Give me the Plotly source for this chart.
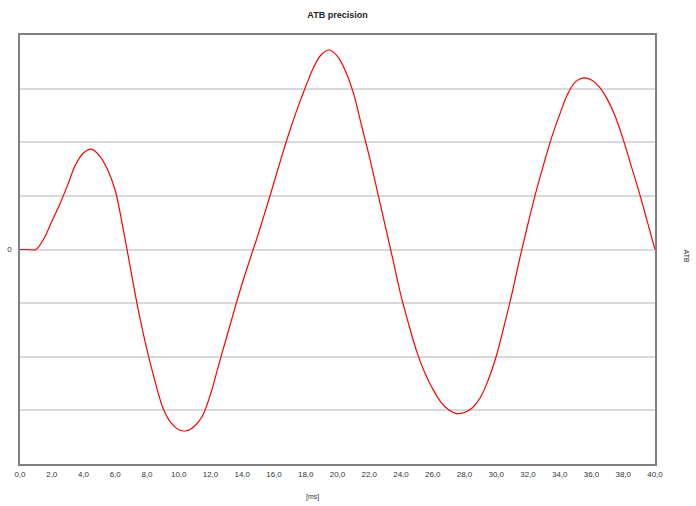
import plotly.graph_objects as go

# time in ms (0.5 ms steps) and ATB values (grid units)
t_ms = [i * 0.5 for i in range(81)]
atb = [0.0, 0.0, 0.0, 0.2, 0.52, 0.84, 1.2, 1.58, 1.8, 1.87,
       1.75, 1.5, 1.1, 0.38, -0.42, -1.2, -1.87, -2.45, -2.95, -3.23,
       -3.36, -3.38, -3.29, -3.1, -2.7, -2.17, -1.65, -1.13, -0.63, -0.17,
       0.28, 0.76, 1.25, 1.75, 2.22, 2.65, 3.04, 3.4, 3.64, 3.72,
       3.6, 3.33, 2.92, 2.33, 1.74, 1.1, 0.45, -0.2, -0.86, -1.41,
       -1.91, -2.3, -2.6, -2.84, -2.99, -3.06, -3.04, -2.95, -2.76, -2.43,
       -1.99, -1.42, -0.81, -0.14, 0.48, 1.07, 1.6, 2.1, 2.52, 2.9,
       3.13, 3.2, 3.16, 3.03, 2.8, 2.48, 2.05, 1.56, 1.07, 0.54, 0.0]

x_tick_vals = [0, 2, 4, 6, 8, 10, 12, 14, 16, 18, 20, 22, 24, 26, 28, 30, 32, 34, 36, 38, 40]
x_tick_text = ["0,0", "2,0", "4,0", "6,0", "8,0", "10,0", "12,0", "14,0", "16,0", "18,0", "20,0",
               "22,0", "24,0", "26,0", "28,0", "30,0", "32,0", "34,0", "36,0", "38,0", "40,0"]
y_tick_vals = [-3, -2, -1, 0, 1, 2, 3]
y_tick_text = ["", "", "", "0", "", "", ""]

font_family = "Liberation Sans, Arial, sans-serif"

fig = go.Figure()
fig.add_trace(go.Scatter(x=t_ms, y=atb, mode="lines",
                         line=dict(color="#ff0000", width=1.2, shape="spline", smoothing=1.0),
                         hoverinfo="skip", showlegend=False))

fig.update_layout(
    width=696, height=506,
    margin=dict(l=20, r=41, t=35, b=42, autoexpand=False),
    paper_bgcolor="white", plot_bgcolor="white",
    font=dict(family=font_family, size=8, color="#333333"),
    title=dict(text="<b>ATB precision</b>", x=(20 + 655) / 2 / 696, xanchor="center",
               y=1 - 15 / 506, yanchor="middle", font=dict(size=9, color="#222222")),
    xaxis=dict(range=[0, 40], tickvals=x_tick_vals, ticktext=x_tick_text, automargin=False,
               showgrid=False, zeroline=False, showline=True, linecolor="#808080",
               linewidth=1.5, mirror=True, ticks="outside", ticklen=2, tickcolor="white",
               tickfont=dict(size=8)),
    yaxis=dict(range=[-4, 4], tickvals=y_tick_vals, ticktext=y_tick_text, automargin=False,
               showgrid=True, gridcolor="#d9d9d9", gridwidth=2, zeroline=False,
               showline=True, linecolor="#808080", linewidth=1.5, mirror=True,
               ticks="outside", ticklen=5, tickcolor="white", tickfont=dict(size=8)),
    annotations=[
        dict(text="[ms]", xref="paper", yref="paper", x=(312 - 20) / 635, y=-33 / 429,
             xanchor="center", yanchor="middle", showarrow=False, font=dict(size=7)),
        dict(text="ATB", xref="paper", yref="paper", x=1 + 31 / 635, y=0.5 - 6 / 429,
             xanchor="center", yanchor="middle", showarrow=False, textangle=90,
             font=dict(size=7)),
    ],
)

fig.write_html("out.html", config={"displayModeBar": False},
               post_script="document.body.style.margin='0';document.body.style.overflow='hidden';")
